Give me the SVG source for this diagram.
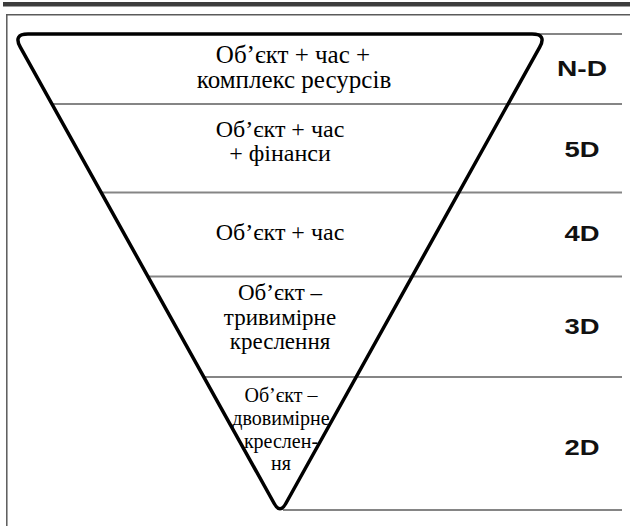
<svg xmlns="http://www.w3.org/2000/svg" width="630" height="526" viewBox="0 0 630 526">
  <style>
    .rowline { stroke: #858585; stroke-width: 2; fill: none; }
    .frame { stroke: #5a5a5a; stroke-width: 1.5; fill: none; }
    .tri { stroke: #000; stroke-width: 3.5; fill: none; stroke-linejoin: round; }
  </style>
  <rect x="0" y="0" width="630" height="526" fill="#ffffff"/>
  <g id="frame">
    <rect x="3" y="2" width="627" height="4.5" fill="#3d3d3d"/>
    <line class="frame" x1="6" y1="14.8" x2="630" y2="14.8"/>
    <line class="frame" x1="6.8" y1="14" x2="6.8" y2="526"/>
  </g>
  <g id="connectors">
    <line class="rowline" x1="538" y1="34" x2="622" y2="34"/>
    <line class="rowline" x1="52" y1="104" x2="622" y2="104"/>
    <line class="rowline" x1="101" y1="192.5" x2="622" y2="192.5"/>
    <line class="rowline" x1="148" y1="276.5" x2="622" y2="276.5"/>
    <line class="rowline" x1="204" y1="377" x2="622" y2="377"/>
    <line class="rowline" x1="283" y1="510" x2="622" y2="510"/>
  </g>
  <g id="funnel">
    <path class="tri" d="M28,34 L532,34 Q547,34 539.7,47.1 L285.8,503.5 Q280,514 274.2,503.5 L20.3,47.1 Q13,34 28,34 Z"/>
  </g>
  <g id="row-nd">
    <text x="293" y="63" font-family="Liberation Serif" font-size="25" text-anchor="middle" fill="#000">Об’єкт + час +</text>
    <text x="294" y="88" font-family="Liberation Serif" font-size="25" text-anchor="middle" fill="#000">комплекс ресурсів</text>
    <text x="582" y="76" font-family="Liberation Sans" font-weight="bold" font-size="22" text-anchor="middle" fill="#111" textLength="50" lengthAdjust="spacingAndGlyphs">N-D</text>
  </g>
  <g id="row-5d">
    <text x="280" y="137" font-family="Liberation Serif" font-size="24" text-anchor="middle" fill="#000">Об’єкт + час</text>
    <text x="280" y="161" font-family="Liberation Serif" font-size="24" text-anchor="middle" fill="#000">+ фінанси</text>
    <text x="582" y="157" font-family="Liberation Sans" font-weight="bold" font-size="22" text-anchor="middle" fill="#111" textLength="35" lengthAdjust="spacingAndGlyphs">5D</text>
  </g>
  <g id="row-4d">
    <text x="280" y="240" font-family="Liberation Serif" font-size="24" text-anchor="middle" fill="#000">Об’єкт + час</text>
    <text x="582" y="240.5" font-family="Liberation Sans" font-weight="bold" font-size="22" text-anchor="middle" fill="#111" textLength="35" lengthAdjust="spacingAndGlyphs">4D</text>
  </g>
  <g id="row-3d">
    <text x="280" y="300" font-family="Liberation Serif" font-size="23" text-anchor="middle" fill="#000">Об’єкт –</text>
    <text x="280" y="324.5" font-family="Liberation Serif" font-size="23" text-anchor="middle" fill="#000">тривимірне</text>
    <text x="280" y="349" font-family="Liberation Serif" font-size="23" text-anchor="middle" fill="#000">креслення</text>
    <text x="582" y="334" font-family="Liberation Sans" font-weight="bold" font-size="22" text-anchor="middle" fill="#111" textLength="35" lengthAdjust="spacingAndGlyphs">3D</text>
  </g>
  <g id="row-2d">
    <text x="281" y="402" font-family="Liberation Serif" font-size="20" text-anchor="middle" fill="#000">Об’єкт –</text>
    <text x="281" y="425" font-family="Liberation Serif" font-size="20" text-anchor="middle" fill="#000">двовимірне</text>
    <text x="281" y="448" font-family="Liberation Serif" font-size="20" text-anchor="middle" fill="#000">креслен-</text>
    <text x="281" y="470" font-family="Liberation Serif" font-size="20" text-anchor="middle" fill="#000">ня</text>
    <text x="582" y="455" font-family="Liberation Sans" font-weight="bold" font-size="22" text-anchor="middle" fill="#111" textLength="35" lengthAdjust="spacingAndGlyphs">2D</text>
  </g>
</svg>
